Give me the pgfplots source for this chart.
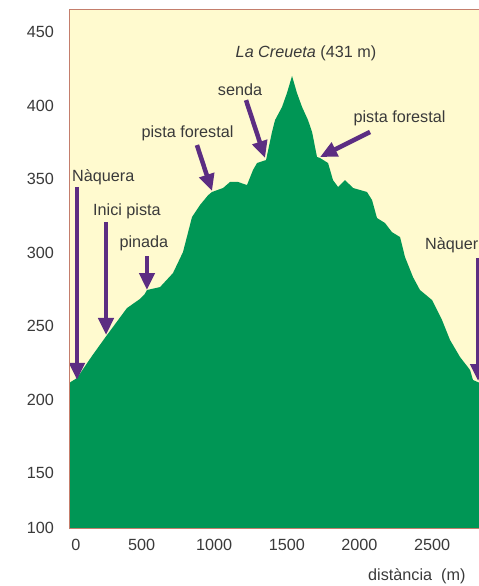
\documentclass[border=0pt]{standalone}
\usepackage{fontspec}
\setmainfont{Liberation Sans}
\usepackage{pgfplots}
\usepackage{pgfplotstable}
\pgfplotsset{compat=1.18}
\usetikzlibrary{arrows.meta}
\definecolor{bgy}{HTML}{FFFACF}
\definecolor{mgreen}{HTML}{009655}
\definecolor{arr}{HTML}{5C2D82}
\definecolor{framec}{HTML}{C47E6C}
\definecolor{txt}{HTML}{3A3A3A}

\pgfplotstableread{
x y
0 211.2
55 214.6
158 229.6
262 243.9
399 262.2
490 268.5
520 271.5
537 274.5
627 276.5
716 286.0
785 300.3
847 324.1
902 332.3
957 338.9
985 341.2
1061 343.9
1109 348.0
1164 348.0
1226 345.9
1267 356.1
1295 360.9
1357 362.9
1398 382.0
1419 390.1
1467 399.0
1501 408.5
1536 420.1
1570 408.5
1605 399.0
1646 390.1
1674 382.0
1708 365.0
1729 364.3
1784 360.9
1818 349.3
1853 344.6
1901 349.3
1956 343.9
2052 341.2
2087 335.7
2121 323.5
2176 320.1
2224 313.9
2280 310.5
2314 296.9
2369 283.3
2417 274.5
2500 267.7
2569 254.1
2624 240.5
2693 228.9
2762 220.1
2782 213.3
2831 211.2
2900 211.0
}\profile

\begin{document}
\begin{tikzpicture}[font=\fontsize{16.2bp}{19bp}\selectfont]
\begin{axis}[
  at={(69bp,58bp)}, anchor=south west,
  scale only axis, width=421.1bp, height=518bp,
  xmin=0, xmax=2900, ymin=112.6, ymax=465,
  axis background/.style={fill=bgy},
  axis line style={draw=framec, line width=1bp},
  axis on top,
  xtick={0,500,1000,1500,2000,2500},
  xticklabels={\hspace{14bp}0,500,1000,1500,2000,2500},
  ytick={112.6,150,200,250,300,350,400,450},
  yticklabels={100,150,200,250,300,350,400,450},
  major tick length=0pt,
  tick label style={font=\fontsize{16.2bp}{19bp}\selectfont, text=txt},
  /pgf/number format/assume math mode=true,
  xticklabel style={yshift=-7.7bp},
  yticklabel style={xshift=-11.7bp},
]
\addplot[fill=mgreen, draw=none] table[x=x, y=y] {\profile} \closedcycle;

\tikzset{myarr/.style={arr, line width=4.5bp, -{Triangle[length=17bp, width=15bp]}}}
\draw[myarr] (axis cs:55,344.6) -- (axis cs:55,213.3);
\draw[myarr] (axis cs:255,320.7) -- (axis cs:255,243.9);
\draw[myarr] (axis cs:537,297.6) -- (axis cs:537,274.5);
\draw[myarr] (axis cs:881,373.1) -- (axis cs:985,341.8);
\draw[myarr] (axis cs:1219,403.7) -- (axis cs:1350,364.3);
\draw[myarr] (axis cs:2073,382) -- (axis cs:1729,365);
\draw[myarr] (axis cs:2817,296.3) -- (axis cs:2817,212.6);

\node[text=txt, anchor=west, inner sep=0pt] at (axis cs:21,351.4) {Nàquera};
\node[text=txt, inner sep=0pt] at (axis cs:399,328.2) {Inici pista};
\node[text=txt, inner sep=0pt] at (axis cs:516,306.5) {pinada};
\node[text=txt, inner sep=0pt] at (axis cs:816,381.3) {pista forestal};
\node[text=txt, inner sep=0pt] at (axis cs:1178,410.5) {senda};
\node[text=txt, inner sep=0pt] at (axis cs:2276,391.5) {pista forestal};
\node[text=txt, inner sep=0pt] at (axis cs:1632,435.7) {\textit{La Creueta} (431 m)};
\node[text=txt, anchor=west, inner sep=0pt] at (axis cs:2452,305) {Nàquera};
\end{axis}
\node[text=txt, anchor=west, inner sep=0pt] at (368bp,10bp) {distància\ \ (m)};
\pgfresetboundingbox
\useasboundingbox (0,0) rectangle (479bp,586bp);
\end{tikzpicture}
\end{document}
